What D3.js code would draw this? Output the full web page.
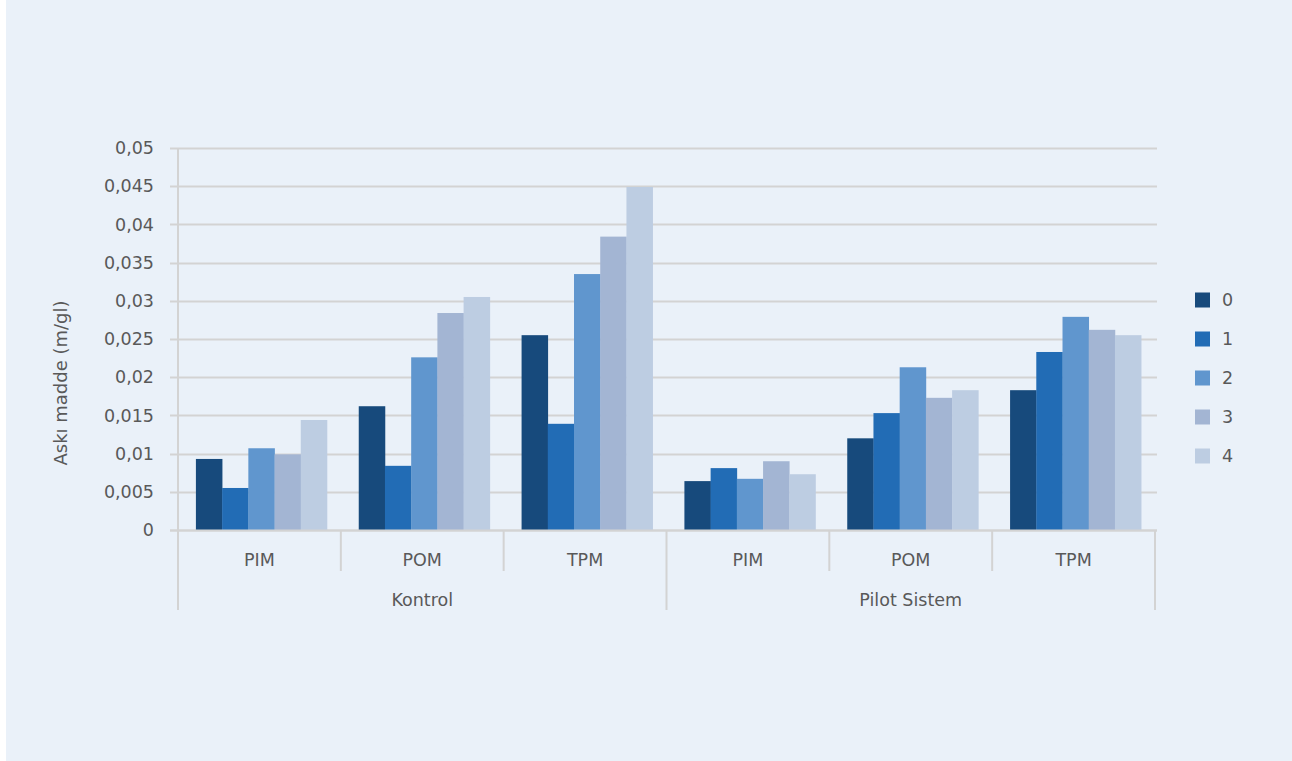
<!DOCTYPE html>
<html><head><meta charset="utf-8">
<script src="https://cdn.jsdelivr.net/npm/d3@7"></script>
<style>
html,body{margin:0;padding:0;background:#fff;}
text{font-family:"DejaVu Sans",sans-serif;fill:#595959;}
</style></head>
<body><svg id="c" width="1292" height="761"></svg>
<script>
const groups = ["Kontrol", "Pilot Sistem"];
const categories = ["PIM", "POM", "TPM"];
const seriesNames = ["0", "1", "2", "3", "4"];
// values per category, series 0..4
const kontrolPIM = [0.0093, 0.0055, 0.0107, 0.0099, 0.0144];
const kontrolPOM = [0.0162, 0.0084, 0.0226, 0.0284, 0.0305];
const kontrolTPM = [0.0255, 0.0139, 0.0335, 0.0384, 0.0449];
const pilotPIM = [0.0064, 0.0081, 0.0067, 0.0090, 0.0073];
const pilotPOM = [0.0120, 0.0153, 0.0213, 0.0173, 0.0183];
const pilotTPM = [0.0183, 0.0233, 0.0279, 0.0262, 0.0255];
const yTicks = [0, 0.005, 0.01, 0.015, 0.02, 0.025, 0.03, 0.035, 0.04, 0.045, 0.05];
const yTickLabels = ["0", "0,005", "0,01", "0,015", "0,02", "0,025", "0,03", "0,035", "0,04", "0,045", "0,05"];
const colors = ["#174A7C", "#226CB5", "#6096CE", "#A3B5D3", "#BDCDE2"];

const rows = [
  {g: groups[0], c: categories[0], v: kontrolPIM},
  {g: groups[0], c: categories[1], v: kontrolPOM},
  {g: groups[0], c: categories[2], v: kontrolTPM},
  {g: groups[1], c: categories[0], v: pilotPIM},
  {g: groups[1], c: categories[1], v: pilotPOM},
  {g: groups[1], c: categories[2], v: pilotTPM}
];
rows.forEach((r, i) => r.key = i);

const svg = d3.select("#c");
svg.append("rect").attr("x", 6).attr("y", 0).attr("width", 1286).attr("height", 761).attr("fill", "#EAF1F9");

const x0 = 178, x1 = 1155, yTop = 148, yBot = 530;
const x = d3.scaleBand().domain(rows.map(r => r.key)).range([x0, x1]).padding(0);
const bw = x.bandwidth();
const xs = d3.scaleBand().domain(seriesNames).range([bw * 0.11, bw * 0.915]).padding(0);
const y = d3.scaleLinear().domain([0, 0.05]).range([yBot, yTop]);
const gridColor = "#D3D3D3";
const fs = 17.5;

// gridlines
svg.append("g").selectAll("line").data(yTicks).join("line")
  .attr("x1", 170).attr("x2", 1157)
  .attr("y1", d => Math.round(y(d)) + 0.5).attr("y2", d => Math.round(y(d)) + 0.5)
  .attr("stroke", gridColor).attr("stroke-width", 2);

// y tick labels
svg.append("g").selectAll("text").data(yTicks).join("text")
  .attr("x", 154).attr("y", d => y(d)).attr("dy", "0.35em")
  .attr("text-anchor", "end").attr("font-size", fs)
  .text((d, i) => yTickLabels[i]);

// y axis line
svg.append("line").attr("x1", x0).attr("x2", x0).attr("y1", yTop).attr("y2", 610)
  .attr("stroke", gridColor).attr("stroke-width", 2);

// bars
const bg = svg.append("g").selectAll("g").data(rows).join("g")
  .attr("transform", r => `translate(${x(r.key)},0)`);
bg.selectAll("rect").data(r => r.v.map((v, i) => ({v, s: seriesNames[i], i}))).join("rect")
  .attr("x", d => xs(d.s)).attr("width", xs.bandwidth() + 0.3)
  .attr("y", d => y(d.v)).attr("height", d => yBot - y(d.v))
  .attr("fill", d => colors[d.i]);

// axis baseline over bars
svg.append("line").attr("x1", 170).attr("x2", 1157).attr("y1", yBot + 0.5).attr("y2", yBot + 0.5)
  .attr("stroke", gridColor).attr("stroke-width", 2);

// category separators
const seps = rows.map(r => x(r.key)).concat([x1]);
svg.append("g").selectAll("line").data(seps).join("line")
  .attr("x1", d => d).attr("x2", d => d)
  .attr("y1", yBot).attr("y2", (d, i) => (i % 3 === 0) ? 610 : 571)
  .attr("stroke", gridColor).attr("stroke-width", 2);

// category labels
svg.append("g").selectAll("text").data(rows).join("text")
  .attr("x", r => x(r.key) + bw / 2).attr("y", 566)
  .attr("text-anchor", "middle").attr("font-size", fs).text(r => r.c);

// group labels
svg.append("g").selectAll("text").data(groups).join("text")
  .attr("x", (g, i) => x(i * 3) + bw * 1.5).attr("y", 606)
  .attr("text-anchor", "middle").attr("font-size", fs).text(g => g);

// y title
svg.append("text").attr("transform", "translate(67,383) rotate(-90)")
  .attr("text-anchor", "middle").attr("font-size", 18).text("Askı madde (m/gl)");

// legend
const lg = svg.append("g").selectAll("g").data(seriesNames).join("g")
  .attr("transform", (d, i) => `translate(1195,${300 + i * 39})`);
lg.append("rect").attr("x", 0).attr("y", -7.5).attr("width", 15).attr("height", 15)
  .attr("fill", (d, i) => colors[i]);
lg.append("text").attr("x", 27).attr("y", 0).attr("dy", "0.35em").attr("font-size", fs).text(d => d);
</script></body></html>
